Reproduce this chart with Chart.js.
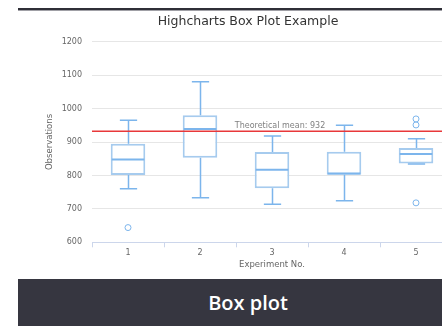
<!DOCTYPE html>
<html>
<head>
<meta charset="utf-8">
<script src="https://cdn.jsdelivr.net/npm/chart.js@4/dist/chart.umd.min.js"></script>
<style>
  html, body { margin: 0; padding: 0; background: #fff; width: 442px; height: 326px; overflow: hidden; position: relative; }
  #topbar { position: absolute; left: 18px; top: 8px; width: 460px; height: 2px; background: #2f2f37; border-bottom: 1px solid #a0a0a6; }
  #wrap { position: absolute; left: 18px; top: 11px; width: 460px; height: 268px; }
  #banner { position: absolute; left: 18px; top: 279px; width: 460px; height: 47px; background: #363640;
            color: #fff; font-family: "Open Sans", sans-serif; font-weight: 600; font-size: 20px;
            text-align: center; line-height: 47px; }
</style>
</head>
<body>
<div id="topbar"></div>
<div id="wrap"><canvas id="chart" width="460" height="268"></canvas></div>
<div id="banner">Box plot</div>
<script>
// Experiment categories and five-number summaries
const experiments = ['1', '2', '3', '4', '5'];
const lowValues = [760, 733, 714, 724, 834];
const q1Values = [801, 853, 762, 802, 836];
const medianValues = [848, 939, 817, 806, 864];
const q3Values = [895, 980, 870, 871, 882];
const highValues = [965, 1080, 918, 950, 910];

// Outlier observations
const outlierExperiments = ['1', '5', '5', '5'];
const outlierValues = [644, 718, 951, 969];

// Reference line
const theoreticalMean = 932;
const meanLabel = 'Theoretical mean: 932';

// Value axis range
const yMin = 600;
const yMax = 1200;
const yStep = 100;

const FONT = '"DejaVu Sans", sans-serif';
const BOX_EDGE = '#a6cbee';
const WHISKER = '#7cb5ec';

// Draws stems, caps and medians for each box, then the mean reference line
const boxWhiskers = {
  id: 'boxWhiskers',
  afterDatasetsDraw(chart) {
    const { ctx, chartArea, scales: { y } } = chart;
    const meta = chart.getDatasetMeta(0);
    ctx.save();
    meta.data.forEach((bar, i) => {
      const x = Math.round(bar.x) + 0.5;
      const half = bar.width / 2;
      const cap = half / 2;
      const pLow = y.getPixelForValue(lowValues[i]);
      const pQ1 = y.getPixelForValue(q1Values[i]);
      const pMed = y.getPixelForValue(medianValues[i]);
      const pQ3 = y.getPixelForValue(q3Values[i]);
      const pHigh = y.getPixelForValue(highValues[i]);
      ctx.strokeStyle = WHISKER;
      ctx.lineWidth = 1.5;
      ctx.beginPath();
      ctx.moveTo(x, pQ1); ctx.lineTo(x, pLow);
      ctx.moveTo(x, pQ3); ctx.lineTo(x, pHigh);
      ctx.moveTo(x - cap, pLow); ctx.lineTo(x + cap, pLow);
      ctx.moveTo(x - cap, pHigh); ctx.lineTo(x + cap, pHigh);
      ctx.stroke();
      ctx.lineWidth = 2;
      ctx.beginPath();
      ctx.moveTo(bar.x - half + 1, pMed); ctx.lineTo(bar.x + half - 1, pMed);
      ctx.stroke();
    });
    const pMean = y.getPixelForValue(theoreticalMean);
    ctx.strokeStyle = '#e8383a';
    ctx.lineWidth = 1.4;
    ctx.beginPath();
    ctx.moveTo(chartArea.left, pMean);
    ctx.lineTo(chartArea.right, pMean);
    ctx.stroke();
    ctx.fillStyle = '#808080';
    ctx.font = '8px ' + FONT;
    ctx.textAlign = 'center';
    ctx.textBaseline = 'alphabetic';
    ctx.fillText(meanLabel, (chartArea.left + chartArea.right) / 2 + 8, pMean - 3);
    ctx.restore();
  }
};

new Chart(document.getElementById('chart'), {
  type: 'bar',
  data: {
    labels: experiments,
    datasets: [
      {
        label: 'Observations',
        data: experiments.map((_, i) => [q1Values[i], q3Values[i]]),
        backgroundColor: '#ffffff',
        borderColor: BOX_EDGE,
        borderWidth: 2,
        borderSkipped: false,
        categoryPercentage: 1,
        barPercentage: 0.48
      },
      {
        label: 'Outlier',
        type: 'line',
        showLine: false,
        data: outlierExperiments.map((c, i) => ({ x: c, y: outlierValues[i] })),
        pointStyle: 'circle',
        pointRadius: 3,
        pointBackgroundColor: '#ffffff',
        pointBorderColor: WHISKER,
        pointBorderWidth: 1
      }
    ]
  },
  options: {
    responsive: false,
    animation: false,
    events: [],
    layout: { padding: 0 },
    plugins: {
      legend: { display: false },
      tooltip: { enabled: false },
      title: {
        display: true,
        text: 'Highcharts Box Plot Example',
        color: '#333333',
        font: { family: FONT, size: 12.5, weight: 'normal' },
        padding: { top: 3.5, bottom: 12.2 }
      }
    },
    scales: {
      x: {
        offset: true,
        grid: { display: true, drawOnChartArea: false, drawTicks: true, tickLength: 5, color: '#ccd6eb', offset: true },
        border: { display: true, color: '#ccd6eb', width: 1 },
        ticks: { color: '#666666', font: { family: FONT, size: 8 }, padding: 1 },
        title: { display: true, text: 'Experiment No.', color: '#666666', font: { family: FONT, size: 8.5 }, padding: { top: 0, bottom: 8.9 } },
        afterFit(scale) { scale.height = 36.7; }
      },
      y: {
        min: yMin,
        max: yMax,
        ticks: { stepSize: yStep, color: '#666666', font: { family: FONT, size: 8 }, padding: 10,
                 callback: (v) => String(v) },
        grid: { color: '#e6e6e6', drawTicks: false },
        border: { display: false },
        title: { display: true, text: 'Observations', color: '#666666', font: { family: FONT, size: 8.5 }, padding: { top: 26.9, bottom: 0 } },
        afterFit(scale) { scale.width = 74; }
      },
      // empty right-hand margin so the plot runs past the visible edge
      edge: {
        type: 'linear',
        position: 'right',
        display: true,
        grid: { display: false },
        border: { display: false },
        ticks: { display: false },
        afterFit(scale) { scale.width = 26; }
      }
    }
  },
  plugins: [boxWhiskers]
});
</script>
</body>
</html>
